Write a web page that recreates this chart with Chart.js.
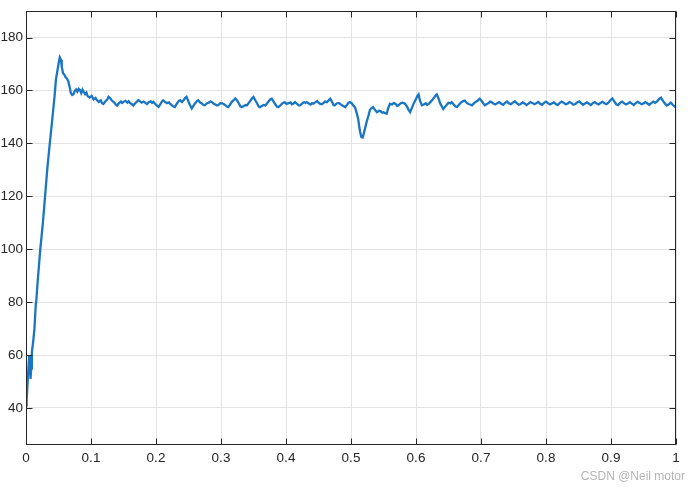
<!DOCTYPE html>
<html>
<head>
<meta charset="utf-8">
<script src="https://cdn.jsdelivr.net/npm/chart.js@4/dist/chart.umd.min.js"></script>
<style>
  html, body { margin: 0; padding: 0; background: #fff; }
  #wrap { position: relative; width: 692px; height: 489px; }
  #mark {
    position: absolute; right: 7px; top: 469px;
    font: 12px "Liberation Sans", Arial, sans-serif; color: #b4b4b4;
  }
</style>
</head>
<body>
<div id="wrap">
  <canvas id="speed-chart" width="692" height="489"></canvas>
  <div id="mark">CSDN @Neil motor</div>
</div>
<script>
// ---------------------------------------- | Data (time in s, speed)

const times = [
  0, 0.001, 0.003, 0.005, 0.006, 0.007, 0.008, 0.009, 0.011, 0.013,
  0.015, 0.016, 0.018, 0.020, 0.022, 0.024, 0.026, 0.028, 0.030, 0.033,
  0.035, 0.037, 0.040, 0.042, 0.044, 0.046, 0.048, 0.050, 0.052, 0.054,
  0.055, 0.057, 0.059, 0.061, 0.063, 0.065, 0.067, 0.069, 0.071, 0.073,
  0.075, 0.077, 0.079, 0.081, 0.083, 0.085, 0.087, 0.089, 0.091, 0.093,
  0.095, 0.098, 0.101, 0.104, 0.107, 0.109, 0.112, 0.115, 0.117, 0.119,
  0.122, 0.125, 0.127, 0.129, 0.132, 0.135, 0.138, 0.140, 0.143, 0.146,
  0.148, 0.150, 0.153, 0.156, 0.158, 0.160, 0.163, 0.165, 0.168, 0.171,
  0.173, 0.175, 0.178, 0.181, 0.184, 0.186, 0.189, 0.192, 0.194, 0.196,
  0.199, 0.202, 0.204, 0.207, 0.209, 0.211, 0.214, 0.217, 0.220, 0.222,
  0.225, 0.227, 0.229, 0.232, 0.235, 0.237, 0.240, 0.243, 0.245, 0.247,
  0.249, 0.252, 0.255, 0.257, 0.260, 0.263, 0.265, 0.268, 0.271, 0.273,
  0.275, 0.278, 0.281, 0.284, 0.286, 0.289, 0.292, 0.294, 0.296, 0.299,
  0.302, 0.304, 0.307, 0.309, 0.311, 0.314, 0.317, 0.320, 0.322, 0.325,
  0.328, 0.330, 0.332, 0.335, 0.338, 0.340, 0.343, 0.346, 0.348, 0.350,
  0.353, 0.356, 0.358, 0.360, 0.363, 0.366, 0.368, 0.371, 0.374, 0.376,
  0.378, 0.381, 0.384, 0.386, 0.388, 0.391, 0.394, 0.396, 0.398, 0.401,
  0.404, 0.407, 0.409, 0.411, 0.414, 0.417, 0.420, 0.422, 0.425, 0.428,
  0.430, 0.432, 0.435, 0.438, 0.440, 0.442, 0.445, 0.448, 0.450, 0.452,
  0.455, 0.458, 0.460, 0.463, 0.466, 0.468, 0.471, 0.473, 0.475, 0.478,
  0.481, 0.483, 0.486, 0.489, 0.491, 0.494, 0.496, 0.498, 0.501, 0.503,
  0.506, 0.508, 0.511, 0.513, 0.514, 0.516, 0.518, 0.519, 0.521, 0.524,
  0.527, 0.529, 0.531, 0.534, 0.537, 0.540, 0.543, 0.546, 0.548, 0.550,
  0.553, 0.555, 0.557, 0.560, 0.563, 0.566, 0.569, 0.571, 0.573, 0.576,
  0.579, 0.581, 0.583, 0.586, 0.589, 0.591, 0.594, 0.597, 0.600, 0.602,
  0.604, 0.606, 0.609, 0.612, 0.615, 0.617, 0.619, 0.622, 0.625, 0.628,
  0.630, 0.632, 0.635, 0.637, 0.640, 0.642, 0.645, 0.648, 0.650, 0.653,
  0.655, 0.658, 0.660, 0.663, 0.666, 0.669, 0.672, 0.675, 0.678, 0.681,
  0.684, 0.686, 0.689, 0.692, 0.695, 0.698, 0.701, 0.704, 0.706, 0.709,
  0.712, 0.714, 0.716, 0.719, 0.722, 0.725, 0.728, 0.731, 0.734, 0.737,
  0.740, 0.743, 0.746, 0.749, 0.752, 0.755, 0.758, 0.761, 0.764, 0.767,
  0.770, 0.773, 0.776, 0.779, 0.782, 0.785, 0.788, 0.791, 0.794, 0.797,
  0.800, 0.803, 0.806, 0.809, 0.812, 0.815, 0.818, 0.821, 0.824, 0.827,
  0.830, 0.833, 0.836, 0.839, 0.842, 0.845, 0.848, 0.851, 0.854, 0.857,
  0.860, 0.863, 0.866, 0.869, 0.872, 0.875, 0.878, 0.881, 0.884, 0.887,
  0.890, 0.893, 0.896, 0.899, 0.902, 0.905, 0.908, 0.911, 0.914, 0.917,
  0.920, 0.923, 0.926, 0.929, 0.932, 0.935, 0.938, 0.941, 0.944, 0.947,
  0.950, 0.953, 0.956, 0.959, 0.962, 0.965, 0.968, 0.971, 0.974, 0.977,
  0.980, 0.983, 0.986, 0.989, 0.992, 0.995, 0.998, 1.000
]

const speed = [
  41, 43, 52, 60, 58, 51, 55, 61, 65, 70,
  79, 81, 88, 94, 100, 105, 110, 116, 122, 131,
  136, 141, 148, 153, 158, 164, 167, 170, 172.5, 171.5,
  169, 166.5, 166, 165, 164.5, 163.5, 161.5, 159, 158.3, 158.6,
  159.8, 160.4, 159.6, 160.6, 160.2, 159, 160.3, 159.4, 158.6, 159.2,
  157.8, 157.3, 158, 156.6, 157.2, 156.4, 155.7, 156.3, 155.2, 154.9,
  155.8, 156.6, 157.6, 157.2, 156.2, 155.6, 154.7, 154.3, 155.2, 155.8,
  155.3, 155.7, 156.1, 155.4, 155.9, 155.3, 154.8, 154.3, 155.2, 155.9,
  156.4, 156, 155.4, 155.8, 155.2, 154.9, 155.6, 155.9, 155.3, 155.7,
  154.9, 154.2, 153.8, 154.9, 155.8, 156.3, 155.6, 155.2, 155.5, 154.9,
  154.3, 153.9, 153.7, 155, 156, 156.3, 155.6, 156.5, 157.2, 157.6,
  156.4, 154.6, 153.2, 154, 155.1, 156, 156.3, 155.4, 155, 154.5,
  154.4, 155.1, 155.4, 155.9, 155.6, 155, 154.6, 154.3, 154.5, 155.2,
  155.1, 154.9, 154.4, 153.9, 153.7, 154.7, 155.8, 156.5, 157, 156.1,
  154.9, 154, 153.7, 154.1, 154.5, 154.4, 155.4, 156.4, 157.1, 157.5,
  156.2, 154.9, 153.9, 153.7, 154.2, 154.5, 154.3, 155.2, 156.1, 156.7,
  156.9, 155.8, 154.6, 153.9, 153.7, 154.3, 155, 155.4, 155.6, 154.9,
  155.2, 155.5, 154.8, 155, 155.6, 154.9, 154.3, 154.4, 155.1, 155.6,
  155.3, 155.6, 155.1, 154.7, 155.2, 155, 155.5, 156, 155.4, 155,
  154.8, 155.3, 155.8, 155.6, 156.4, 156.9, 155.6, 154.6, 154.4, 155.1,
  155.3, 155, 154.4, 154, 153.7, 154.6, 155.3, 155.6, 155.2, 154.5,
  153.7, 152.2, 149.3, 145.8, 144.3, 142.4, 142.2, 143.1, 145, 148.1,
  150.6, 152.5, 153.2, 153.7, 152.6, 151.8, 152.3, 152.1, 151.6, 151.8,
  151.4, 151.2, 153.2, 155, 154.7, 155.3, 154.8, 154.2, 154.4, 155.1,
  155.4, 155.2, 155, 154, 152.5, 151.8, 153.6, 155.4, 156.8, 157.9,
  158.5, 156.2, 154.4, 154.7, 155.2, 154.6, 154.8, 155.6, 156.4, 157.4,
  158.1, 158.5, 156.8, 155.2, 153.9, 153, 153.9, 154.8, 155.3, 155.1,
  155.6, 154.7, 154.1, 153.7, 154.6, 155.4, 155.9, 156.2, 155.3, 154.9,
  154.6, 154.4, 155.1, 155.7, 156.2, 156.9, 156, 155, 154.4, 154.9,
  155.3, 155.8, 155.6, 155.1, 154.7, 155.2, 155.6, 155, 154.6, 155.3,
  155.8, 155.1, 154.8, 155.4, 155.9, 155.2, 154.6, 154.9, 155.5, 155.1,
  154.5, 155, 155.6, 155.3, 154.8, 155.2, 155.7, 155, 154.6, 155.3,
  155.8, 155.2, 154.7, 155.1, 155.5, 154.9, 154.5, 155.2, 155.8, 155.4,
  154.8, 155, 155.6, 155.3, 154.6, 154.9, 155.5, 155.9, 155.2, 154.6,
  155.1, 155.5, 155, 154.5, 155.2, 155.6, 155.1, 154.7, 155.3, 155.7,
  155.2, 154.8, 155.4, 156.3, 157, 155.9, 154.8, 154.5, 155.3, 155.8,
  155.2, 154.7, 155.1, 155.6, 155, 154.5, 155.2, 155.7, 155.3, 154.8,
  155.1, 155.6, 155.1, 154.6, 155.2, 155.8, 155.3, 155.9, 156.8, 157.3,
  156.1, 155, 154.3, 154.8, 155.4, 154.6, 153.9, 154.2
]

const xTicks = [0, 0.1, 0.2, 0.3, 0.4, 0.5, 0.6, 0.7, 0.8, 0.9, 1]
const xTickLabels = ["0", "0.1", "0.2", "0.3", "0.4", "0.5", "0.6", "0.7", "0.8", "0.9", "1"]
const yTicks = [40, 60, 80, 100, 120, 140, 160, 180]

const axisColor = "#262626"
const gridColor = "#e3e3e3"
const lineColor = "#1a76c2"

// ---------------------------------------- | Box and inward ticks (MATLAB style)

const boxPlugin = {
  id: "box",
  afterDatasetsDraw(chart) {
    const { ctx, chartArea: a, scales } = chart
    const L = Math.round(a.left) + 0.5, R = Math.round(a.right) - 0.5
    const T = Math.round(a.top) + 0.5, B = Math.round(a.bottom) - 0.5
    ctx.save()
    ctx.strokeStyle = axisColor
    ctx.lineWidth = 1
    ctx.strokeRect(L, T, R - L, B - T)
    ctx.beginPath()
    xTicks.forEach(v => {
      const x = Math.round(scales.x.getPixelForValue(v)) + 0.5
      ctx.moveTo(x, B); ctx.lineTo(x, B - 6)
      ctx.moveTo(x, T); ctx.lineTo(x, T + 6)
    })
    yTicks.forEach(v => {
      const y = Math.round(scales.y.getPixelForValue(v)) + 0.5
      ctx.moveTo(L, y); ctx.lineTo(L + 6, y)
      ctx.moveTo(R, y); ctx.lineTo(R - 6, y)
    })
    ctx.stroke()
    ctx.restore()
  }
}

// ---------------------------------------- | Chart

const ctx = document.getElementById("speed-chart").getContext("2d")

const speedChart = new Chart(ctx, {
  type: "line",
  data: {
    datasets: [{
      data: times.map((t, i) => ({ x: t, y: speed[i] })),
      borderColor: lineColor,
      borderWidth: 2.3,
      pointRadius: 0,
      tension: 0,
      fill: false
    }]
  },
  options: {
    responsive: false,
    animation: false,
    layout: { padding: { top: 8, right: 16, left: 0, bottom: 0 } },
    plugins: { legend: { display: false }, tooltip: { enabled: false } },
    scales: {
      x: {
        type: "linear",
        min: 0,
        max: 1,
        afterBuildTicks: scale => { scale.ticks = xTicks.map(v => ({ value: v })) },
        afterFit: scale => { scale.height = 44 },
        ticks: {
          callback: (v, i) => xTickLabels[i],
          color: axisColor,
          font: { family: "'Liberation Sans', Arial, sans-serif", size: 13.5 },
          padding: 5,
          maxRotation: 0
        },
        grid: { color: gridColor, drawTicks: false },
        border: { display: false }
      },
      y: {
        min: 26,
        max: 190,
        afterBuildTicks: scale => { scale.ticks = yTicks.map(v => ({ value: v })) },
        afterFit: scale => { scale.width = 26 },
        ticks: {
          color: axisColor,
          font: { family: "'Liberation Sans', Arial, sans-serif", size: 13.5 },
          padding: 3
        },
        grid: { color: gridColor, drawTicks: false },
        border: { display: false }
      }
    }
  },
  plugins: [boxPlugin]
})
</script>
</body>
</html>
